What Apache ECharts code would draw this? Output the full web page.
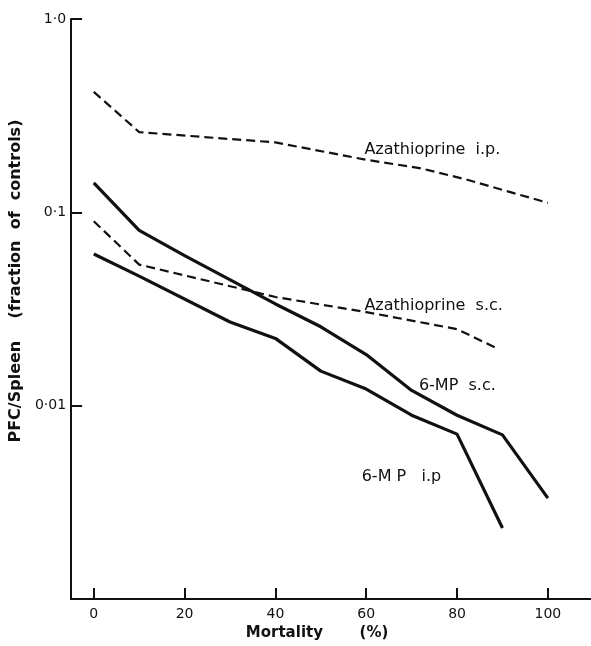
<!DOCTYPE html>
<html>
<head>
<meta charset="utf-8">
<script src="https://cdn.jsdelivr.net/npm/echarts@6/dist/echarts.min.js"></script>
<style>
html,body{margin:0;padding:0;background:#fff;}
#chart{width:591px;height:646px;}
</style>
</head>
<body>
<div id="chart"></div>
<script>
// ---- data ----
const xTicks = [0, 20, 40, 60, 80, 100];
const yTickLabels = {1: '1·0', 0.1: '0·1', 0.01: '0·01'};

const azaIpX = [0, 10, 40, 60, 72, 82, 100];
const azaIpY = [0.42, 0.26, 0.23, 0.187, 0.169, 0.148, 0.112];

const azaScX = [0, 10, 40, 60, 80, 89];
const azaScY = [0.09, 0.0537, 0.0365, 0.0305, 0.0249, 0.0197];

const mpScX = [0, 10, 20, 40, 50, 60, 70, 80, 90, 100];
const mpScY = [0.142, 0.0807, 0.0598, 0.0336, 0.0256, 0.0184, 0.012, 0.00893, 0.00707, 0.00333];

const mpIpX = [0, 10, 30, 40, 50, 60, 70, 80, 90];
const mpIpY = [0.0609, 0.0468, 0.0271, 0.0223, 0.0151, 0.0122, 0.00893, 0.00713, 0.00233];

const seriesNames = ['Azathioprine i.p.', 'Azathioprine s.c.', '6-MP s.c.', '6-MP i.p'];
const labelTexts = ['Azathioprine  i.p.', 'Azathioprine  s.c.', '6-MP  s.c.', '6-M P   i.p'];
// label anchor (data coords: mortality, value)
const labelX = [59.6, 59.6, 71.6, 59.0];
const labelY = [0.21, 0.0328, 0.0127, 0.0043];

const pairs = (xs, ys) => xs.map((x, i) => [x, ys[i]]);

const chart = echarts.init(document.getElementById('chart'), null, {renderer: 'canvas'});
const FONT = 'DejaVu Sans';
const INK = '#111';

const dashed = {color: INK, width: 2.2, type: [9, 5]};
const solid = {color: INK, width: 3.2, type: 'solid'};

chart.setOption({
  animation: false,
  backgroundColor: '#fff',
  grid: {left: 66, right: 0, top: 19, bottom: 41, containLabel: false},
  xAxis: {
    type: 'value',
    min: -5, max: 109.5,
    name: 'Mortality       (%)',
    nameLocation: 'middle',
    nameGap: 26,
    nameTextStyle: {fontFamily: FONT, fontSize: 15, fontWeight: 'bold', color: INK, padding: [0, 28, 0, 0]},
    axisLine: {onZero: false, lineStyle: {color: INK, width: 2}},
    axisTick: {show: true, inside: true, length: 11, lineStyle: {color: INK, width: 2}, customValues: xTicks},
    axisLabel: {fontFamily: FONT, fontSize: 14, color: INK, margin: 8, customValues: xTicks},
    splitLine: {show: false}
  },
  yAxis: {
    type: 'log',
    logBase: 10,
    min: 0.001, max: 1,
    name: 'PFC/Spleen    (fraction  of  controls)',
    nameLocation: 'middle',
    nameGap: 37,
    nameRotate: 90,
    nameTextStyle: {fontFamily: FONT, fontSize: 16, fontWeight: 'bold', color: INK, padding: [0, 0, 0, 56]},
    axisLine: {show: true, onZero: false, lineStyle: {color: INK, width: 2}},
    axisTick: {show: true, inside: true, length: 11, lineStyle: {color: INK, width: 2}},
    axisLabel: {
      fontFamily: FONT, fontSize: 14, color: INK, margin: 5,
      formatter: v => {
        for (const k in yTickLabels) { if (Math.abs(Math.log10(v) - Math.log10(+k)) < 1e-6) return yTickLabels[k]; }
        return '';
      }
    },
    splitLine: {show: false}
  },
  series: [
    {name: seriesNames[0], type: 'line', data: pairs(azaIpX, azaIpY), symbol: 'none', lineStyle: dashed},
    {name: seriesNames[1], type: 'line', data: pairs(azaScX, azaScY), symbol: 'none', lineStyle: dashed},
    {name: seriesNames[2], type: 'line', data: pairs(mpScX, mpScY), symbol: 'none', lineStyle: solid},
    {name: seriesNames[3], type: 'line', data: pairs(mpIpX, mpIpY), symbol: 'none', lineStyle: solid}
  ]
});

const texts = labelTexts.map((n, i) => {
  const p = chart.convertToPixel({gridIndex: 0}, [labelX[i], labelY[i]]);
  return {
    type: 'text', x: p[0], y: p[1],
    style: {text: n, fontFamily: FONT, fontSize: 16, fill: INK, textAlign: 'left', textVerticalAlign: 'middle'}
  };
});
chart.setOption({graphic: texts});
</script>
</body>
</html>
